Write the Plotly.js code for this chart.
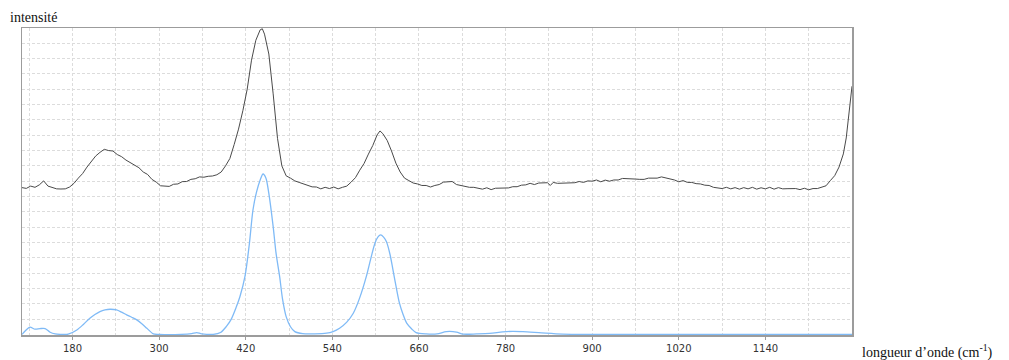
<!DOCTYPE html>
<html>
<head>
<meta charset="utf-8">
<script src="https://cdn.plot.ly/plotly-3.0.1.min.js"></script>
<style>html,body{margin:0;padding:0;background:#fff;}#chart{width:1009px;height:360px;}</style>
</head>
<body>
<div id="chart"></div>
<script>
// Measured Raman spectrum (gray, noisy)
const measuredWavenumber = [110,116,122,128,134,140,146,152,158,164,170,176,182,188,194,200,206,212,218,224,230,236,242,248,254,260,266,272,278,284,290,296,302,308,314,320,326,332,338,344,350,356,362,368,374,380,386,392,398,404,410,416,422,428,434,440,443,446,452,458,464,470,476,482,488,494,500,506,512,518,524,530,536,542,548,554,560,566,572,578,584,590,596,602,606,610,616,622,628,634,640,646,652,658,664,670,676,682,688,694,700,706,712,718,724,730,736,742,748,754,760,766,772,778,784,790,796,802,808,814,820,826,832,838,842,846,852,858,864,870,876,882,888,894,900,906,912,918,924,930,936,942,948,954,960,966,972,978,984,990,996,1002,1008,1014,1020,1026,1032,1038,1044,1050,1056,1062,1068,1074,1080,1086,1092,1098,1104,1110,1116,1122,1128,1134,1140,1146,1152,1158,1164,1170,1176,1182,1188,1194,1200,1206,1212,1218,1224,1230,1236,1242,1248,1252,1256,1260];
const measuredIntensity = [9.58,9.53,9.68,9.60,9.76,10.02,9.68,9.58,9.50,9.49,9.50,9.62,9.86,10.20,10.50,10.92,11.28,11.64,11.88,12.08,12.00,11.97,11.74,11.60,11.38,11.22,11.03,10.88,10.60,10.44,10.12,9.94,9.70,9.68,9.66,9.80,9.82,9.97,9.98,10.12,10.16,10.28,10.26,10.32,10.34,10.42,10.60,11.00,11.48,12.40,13.40,14.60,16.00,17.90,19.20,19.88,19.95,19.60,18.30,15.70,12.80,11.00,10.35,10.20,10.02,9.92,9.82,9.76,9.63,9.62,9.50,9.60,9.52,9.62,9.50,9.60,9.68,9.94,10.23,10.72,11.16,11.77,12.33,13.02,13.28,13.10,12.66,11.97,11.18,10.60,10.20,10.04,9.88,9.82,9.72,9.72,9.62,9.72,9.78,9.94,9.98,9.98,9.78,9.72,9.64,9.60,9.60,9.56,9.48,9.57,9.45,9.54,9.54,9.52,9.56,9.64,9.64,9.74,9.76,9.86,9.78,9.88,9.90,9.90,9.72,9.92,9.86,9.86,9.88,9.88,9.90,9.98,9.92,10.02,10.00,10.08,9.96,10.07,10.00,10.08,10.08,10.18,10.18,10.14,10.14,10.12,10.12,10.20,10.20,10.20,10.28,10.22,10.12,10.08,9.96,10.04,9.92,9.92,9.84,9.82,9.74,9.72,9.60,9.58,9.52,9.60,9.50,9.58,9.48,9.58,9.50,9.60,9.48,9.57,9.50,9.60,9.48,9.58,9.50,9.51,9.53,9.52,9.45,9.54,9.44,9.52,9.52,9.60,9.70,10.04,10.36,10.92,11.78,12.82,14.38,16.20];

// Computed spectrum (blue, smooth)
const computedWavenumber = [110,115,121,128,135,142,149,156,163,174,186,195,204,211,218,225,232,241,248,255,262,269,276,283,292,300,330,345,352,359,375,385,393,400,407,412,419,425,430,435,440,444,448,452,458,462,467,471,476,482,488,499,532,541,550,560,569,578,587,593,599,603,607,611,615,620,624,628,633,638,643,650,656,670,685,698,712,721,740,758,776,790,804,830,859,900,1260];
const computedIntensity = [0,0.25,0.47,0.34,0.38,0.38,0.14,0.03,0,0.01,0.29,0.65,1.06,1.30,1.49,1.60,1.64,1.60,1.45,1.27,1.12,0.95,0.70,0.40,0.03,0,0,0.05,0.12,0.04,0,0.12,0.51,1.00,1.80,2.47,3.80,5.90,8.12,9.30,10.08,10.47,10.20,9.20,7.03,5.30,3.77,2.30,1.16,0.50,0.18,0.05,0.08,0.18,0.40,0.80,1.38,2.40,3.77,4.90,5.95,6.35,6.49,6.35,6.05,5.20,4.21,3.20,2.04,1.30,0.73,0.35,0.12,0.03,0.03,0.18,0.15,0.02,0.03,0.06,0.16,0.20,0.18,0.10,0.02,0,0];

const xTickVals = [180,300,420,540,660,780,900,1020,1140];
const xTickText = ['180','300','420','540','660','780','900','1020','1140'];
const yAxisLabel = 'intensité';
const xAxisLabel = 'longueur d’onde (cm<sup>-1</sup>)';

const gridColor = '#dcdcdc';
const data = [
  {x: measuredWavenumber, y: measuredIntensity, type: 'scatter', mode: 'lines',
   line: {color: '#4a4a4a', width: 1}, hoverinfo: 'skip'},
  {x: computedWavenumber, y: computedIntensity, type: 'scatter', mode: 'lines',
   line: {color: '#7fbaf6', width: 1.3, shape: 'spline', smoothing: 0.8}, hoverinfo: 'skip'}
];
const layout = {
  width: 1009, height: 360,
  margin: {l: 22, r: 157, t: 28, b: 25},
  paper_bgcolor: '#fff', plot_bgcolor: '#fff',
  showlegend: false,
  xaxis: {
    range: [110, 1260], tickmode: 'array', tickvals: xTickVals, ticktext: xTickText,
    showgrid: true, gridcolor: gridColor, griddash: '3px,2px', gridwidth: 1,
    minor: {tickmode: 'array', tickvals: [120,240,360,480,600,720,840,960,1080,1200], showgrid: true, gridcolor: gridColor, griddash: '3px,2px', ticks: ''},
    showline: true, linecolor: '#9c9c9c', linewidth: 1.5, mirror: true,
    ticks: 'outside', ticklen: 3, tickcolor: '#9c9c9c',
    tickfont: {family: 'DejaVu Sans', size: 10, color: '#333'},
    zeroline: false, fixedrange: true, layer: 'below traces'
  },
  yaxis: {
    range: [-0.04, 20], dtick: 1, tick0: 0,
    showgrid: true, gridcolor: gridColor, griddash: '3px,2px', gridwidth: 1,
    showticklabels: false, ticks: '',
    showline: true, linecolor: '#9c9c9c', linewidth: 1.5, mirror: true,
    zeroline: false, fixedrange: true, layer: 'below traces'
  },
  annotations: [
    {text: yAxisLabel, xref: 'paper', yref: 'paper', x: -14/830, y: 1 + 10.5/307,
     xanchor: 'left', yanchor: 'middle', showarrow: false,
     font: {family: 'Liberation Serif', size: 14, color: '#111'}},
    {text: xAxisLabel, xref: 'paper', yref: 'paper', x: 838/830, y: -16/307,
     xanchor: 'left', yanchor: 'middle', showarrow: false,
     font: {family: 'Liberation Serif', size: 14, color: '#111'}}
  ]
};
Plotly.newPlot('chart', data, layout, {displayModeBar: false, staticPlot: true});
</script>
</body>
</html>
